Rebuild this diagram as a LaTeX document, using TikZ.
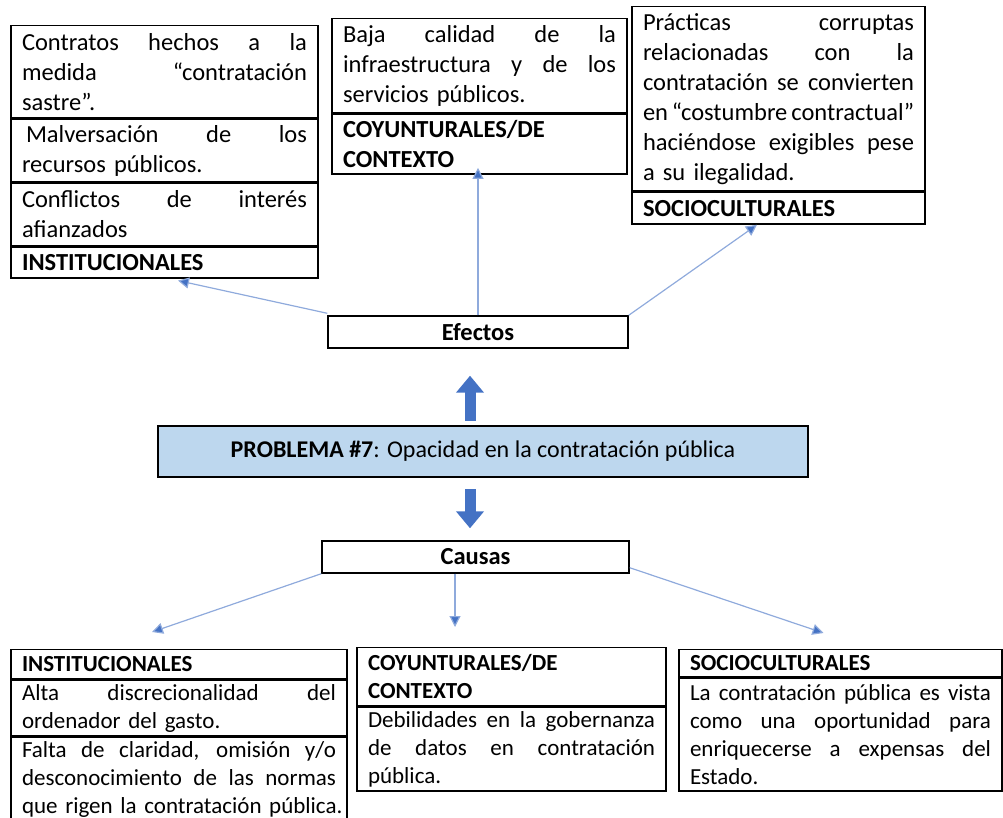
\documentclass[tikz,border=0pt]{standalone}
\usepackage{fontspec}
\setmainfont{Carlito}
\usetikzlibrary{positioning, arrows.meta}

\definecolor{probfill}{HTML}{BDD7EE}
\definecolor{arrowblue}{HTML}{4472C4}
\definecolor{linkblue}{HTML}{8FAADC}

\newcommand{\lines}[1]{\vbox{#1}}
\newcommand{\fillline}[1]{\hbox to\linewidth{\spaceskip=.23em plus 1fil minus .07em\relax #1}}
\newcommand{\lastline}[1]{\hbox{#1}}
\hbadness=10000
\hfuzz=30pt

\begin{document}
\begin{tikzpicture}[x=1pt, y=-1pt,
  cell/.style 2 args={draw, line width=1.4pt, text width=#1, minimum height=#2,
    inner xsep=11pt, inner ysep=0pt},
  upper/.style={font=\fontsize{24.5}{30}\selectfont},
  lower/.style={font=\fontsize{23}{28}\selectfont},
  label box/.style={draw, line width=1.4pt, inner sep=0pt,
    font=\fontsize{24.5}{30}\selectfont\bfseries},
  link/.style={draw=linkblue, line width=1.2pt,
    -{Triangle[length=11pt, width=11pt, fill=arrowblue]}},
  bigarrow/.style={draw=arrowblue, line width=11pt,
    -{Triangle[length=17pt, width=27pt]}}]
	\useasboundingbox (0,0) rectangle (1003,818);

	% efectos
	\node[cell={285pt}{92pt}, upper, anchor=north] (tl1) at (164.5,25)
		{\lines{\fillline{Contratos hechos a la}\fillline{medida “contratación}\lastline{sastre”.}}};
	\node[cell={285pt}{63pt}, upper] (tl2) [below=0pt of tl1]
		{\lines{\fillline{\kern4pt Malversación de los}\lastline{recursos públicos.}}};
	\node[cell={285pt}{62pt}, upper] (tl3) [below=0pt of tl2]
		{\lines{\fillline{Conflictos de interés}\lastline{afianzados}}};
	\node[cell={285pt}{31pt}, upper] (tl4) [below=0pt of tl3]
		{\lines{\lastline{\bfseries INSTITUCIONALES}}};

	\node[cell={273pt}{94pt}, upper, anchor=north] (tm1) at (479.5,18)
		{\lines{\fillline{Baja calidad de la}\fillline{infraestructura y de los}\lastline{servicios públicos.}}};
	\node[cell={273pt}{60pt}, upper] (tm2) [below=0pt of tm1]
		{\lines{\lastline{\bfseries COYUNTURALES/DE}\lastline{\bfseries CONTEXTO}}};

	\node[cell={271pt}{184pt}, upper, anchor=north] (tr1) at (778.5,6)
		{\lines{\fillline{Prácticas corruptas}\fillline{relacionadas con la}\fillline{contratación se convierten}%
		 \fillline{en “costumbre contractual”}\fillline{haciéndose exigibles pese}\lastline{a su ilegalidad.}}};
	\node[cell={271pt}{32pt}, upper] (tr2) [below=0pt of tr1]
		{\lines{\lastline{\bfseries SOCIOCULTURALES}}};

	\node[label box, minimum width=300pt, minimum height=32pt] (efectos) at (478,332) {Efectos};

	% problema
	\node[draw, line width=2.2pt, fill=probfill, minimum width=650pt, minimum height=51pt,
		font=\fontsize{24}{29}\selectfont] (prob) at (483,451.5)
		{\textbf{PROBLEMA \#7}: Opacidad en la contratación pública};

	% causas
	\node[label box, minimum width=307pt, minimum height=32pt] (causas) at (475.5,557) {Causas};

	\node[cell={314pt}{29pt}, lower, anchor=north] (bl1) at (179,649)
		{\lines{\lastline{\bfseries INSTITUCIONALES}}};
	\node[cell={314pt}{56pt}, lower] (bl2) [below=0pt of bl1]
		{\lines{\fillline{Alta discrecionalidad del}\lastline{ordenador del gasto.}}};
	\node[cell={314pt}{84pt}, lower] (bl3) [below=0pt of bl2]
		{\lines{\fillline{Falta de claridad, omisión y/o}\fillline{desconocimiento de las normas}%
		 \lastline{que rigen la contratación pública.}}};

	\node[cell={287pt}{58pt}, lower, anchor=north] (bm1) at (511.5,647)
		{\lines{\lastline{\bfseries COYUNTURALES/DE}\lastline{\bfseries CONTEXTO}}};
	\node[cell={287pt}{84pt}, lower] (bm2) [below=0pt of bm1]
		{\lines{\fillline{Debilidades en la gobernanza}\fillline{de datos en contratación}\lastline{pública.}}};

	\node[cell={301pt}{27pt}, lower, anchor=north] (br1) at (840.5,649)
		{\lines{\lastline{\bfseries SOCIOCULTURALES}}};
	\node[cell={301pt}{113pt}, lower] (br2) [below=0pt of br1]
		{\lines{\fillline{La contratación pública es vista}\fillline{como una oportunidad para}%
		 \fillline{enriquecerse a expensas del}\lastline{Estado.}}};

	% flechas
	\draw[bigarrow] ([xshift=-13pt, yshift=4pt]prob.north) -- ([xshift=-8pt, yshift=-27pt]efectos.south);
	\draw[bigarrow] ([xshift=-13pt, yshift=-11pt]prob.south) -- ([xshift=-5.5pt, yshift=12pt]causas.north);

	\draw[link] ([yshift=2pt]efectos.north west) -- ([xshift=13.5pt, yshift=-2pt]tl4.south);
	\draw[link] (efectos.north) -- ([xshift=-1.5pt, yshift=7pt]tm2.south);
	\draw[link] (efectos.north east) -- ([xshift=-21.5pt]tr2.south);
	\draw[link] (causas.south west) -- ([xshift=-27pt, yshift=17pt]bl1.north);
	\draw[link] ([xshift=-20.5pt]causas.south) -- ([xshift=-56.5pt, yshift=20pt]bm1.north);
	\draw[link] ([yshift=6pt]causas.south east) -- ([xshift=-17pt, yshift=16pt]br1.north);
\end{tikzpicture}
\end{document}
